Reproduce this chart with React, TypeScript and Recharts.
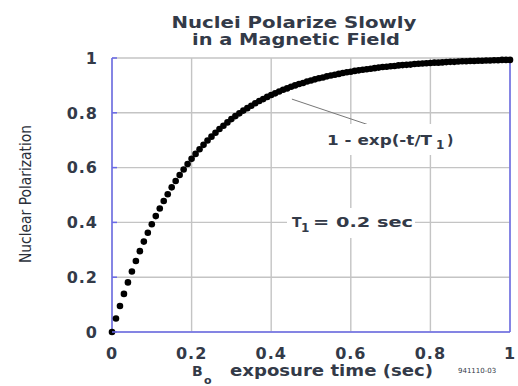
import React from 'react';
import { ScatterChart, Scatter, XAxis, YAxis, CartesianGrid, ReferenceLine } from 'recharts';

const times = [
  0, 0.01, 0.02, 0.03, 0.04, 0.05, 0.06, 0.07, 0.08, 0.09,
  0.1, 0.11, 0.12, 0.13, 0.14, 0.15, 0.16, 0.17, 0.18, 0.19,
  0.2, 0.21, 0.22, 0.23, 0.24, 0.25, 0.26, 0.27, 0.28, 0.29,
  0.3, 0.31, 0.32, 0.33, 0.34, 0.35, 0.36, 0.37, 0.38, 0.39,
  0.4, 0.41, 0.42, 0.43, 0.44, 0.45, 0.46, 0.47, 0.48, 0.49,
  0.5, 0.51, 0.52, 0.53, 0.54, 0.55, 0.56, 0.57, 0.58, 0.59,
  0.6, 0.61, 0.62, 0.63, 0.64, 0.65, 0.66, 0.67, 0.68, 0.69,
  0.7, 0.71, 0.72, 0.73, 0.74, 0.75, 0.76, 0.77, 0.78, 0.79,
  0.8, 0.81, 0.82, 0.83, 0.84, 0.85, 0.86, 0.87, 0.88, 0.89,
  0.9, 0.91, 0.92, 0.93, 0.94, 0.95, 0.96, 0.97, 0.98, 0.99,
  1,
];

const polarization = [
  0, 0.049, 0.095, 0.139, 0.181, 0.221, 0.259, 0.295, 0.33, 0.362,
  0.393, 0.423, 0.451, 0.478, 0.503, 0.528, 0.551, 0.573, 0.593, 0.613,
  0.632, 0.65, 0.667, 0.683, 0.699, 0.713, 0.727, 0.741, 0.753, 0.765,
  0.777, 0.788, 0.798, 0.808, 0.817, 0.826, 0.835, 0.843, 0.85, 0.858,
  0.865, 0.871, 0.878, 0.884, 0.889, 0.895, 0.9, 0.905, 0.909, 0.914,
  0.918, 0.922, 0.926, 0.929, 0.933, 0.936, 0.939, 0.942, 0.945, 0.948,
  0.95, 0.953, 0.955, 0.957, 0.959, 0.961, 0.963, 0.965, 0.967, 0.968,
  0.97, 0.971, 0.973, 0.974, 0.975, 0.976, 0.978, 0.979, 0.98, 0.981,
  0.982, 0.983, 0.983, 0.984, 0.985, 0.986, 0.986, 0.987, 0.988, 0.988,
  0.989, 0.989, 0.99, 0.99, 0.991, 0.991, 0.992, 0.992, 0.993, 0.993,
  0.993,
];

const xTicks = [0, 0.2, 0.4, 0.6, 0.8, 1];
const yTicks = [0, 0.2, 0.4, 0.6, 0.8, 1];

const titleLines = ['Nuclei Polarize Slowly', 'in a Magnetic Field'];
const yLabel = 'Nuclear Polarization';
const curveLabel = '1 - exp(-t/T';
const t1Label = '= 0.2 sec';
const figId = '941110-03';

const leader = [
  { x: 0.452, y: 0.85 },
  { x: 0.661, y: 0.748 },
];

const data = times.map((t, i) => ({ t, p: polarization[i] }));

const FRAME = '#6a6ae8';
const GRID = '#c4c4c4';
const TEXT = '#333a48';
const FONT = '"DejaVu Sans", "Liberation Sans", sans-serif';

const Dot = (props: any) => <circle cx={props.cx} cy={props.cy} r={3.3} fill="#000" />;

const LeftTick = (props: any) => {
  const { x, y, payload } = props;
  return (
    <g>
      <line x1={x + 14} x2={x + 19} y1={y} y2={y} stroke={FRAME} strokeWidth={1.5} />
      <text
        x={x}
        y={y}
        dy="0.36em"
        textAnchor="end"
        fill={TEXT}
        fontSize={16}
        fontWeight="bold"
        fontFamily={FONT}
        letterSpacing={1}
      >
        {String(payload.value)}
      </text>
    </g>
  );
};

const RightTick = (props: any) => {
  const { x, y } = props;
  return <line x1={x - 5} x2={x} y1={y} y2={y} stroke={FRAME} strokeWidth={1.5} />;
};

export default function App() {
  return (
    <div style={{ position: 'absolute', left: 0, top: 0, width: 518, height: 386, background: '#fff' }}>
      <ScatterChart width={518} height={386} margin={{ top: 58, right: 0, bottom: 0, left: 0 }}>
        <CartesianGrid
          xAxisId="b"
          yAxisId="l"
          stroke={GRID}
          strokeWidth={1.4}
          horizontalValues={yTicks}
          verticalValues={xTicks}
        />
        <XAxis
          xAxisId="b"
          type="number"
          dataKey="t"
          domain={[0, 1]}
          ticks={xTicks}
          tickFormatter={(v: number) => String(v)}
          height={54}
          axisLine={{ stroke: FRAME, strokeWidth: 1.5 }}
          tickLine={false}
          tickMargin={10}
          tick={{ fill: TEXT, fontSize: 16, fontWeight: 'bold', fontFamily: FONT, letterSpacing: 1 }}
          interval={0}
        />
        <XAxis
          xAxisId="t"
          orientation="top"
          type="number"
          dataKey="t"
          domain={[0, 1]}
          ticks={xTicks}
          height={0}
          axisLine={{ stroke: FRAME, strokeWidth: 1.5 }}
          tickLine={false}
          tick={false}
        />
        <YAxis
          yAxisId="l"
          type="number"
          dataKey="p"
          domain={[0, 1]}
          ticks={yTicks}
          width={112}
          axisLine={{ stroke: FRAME, strokeWidth: 1.5 }}
          tickLine={false}
          tickSize={0}
          tickMargin={14}
          tick={<LeftTick />}
          interval={0}
        />
        <YAxis
          yAxisId="r"
          orientation="right"
          type="number"
          dataKey="p"
          domain={[0, 1]}
          ticks={yTicks}
          width={8}
          axisLine={{ stroke: FRAME, strokeWidth: 1.5 }}
          tickLine={false}
          tickSize={0}
          tickMargin={0}
          tick={<RightTick />}
          interval={0}
        />
        <ReferenceLine
          xAxisId="b"
          yAxisId="l"
          segment={leader}
          stroke="#777"
          strokeWidth={1}
        />
        <Scatter
          xAxisId="b"
          yAxisId="l"
          data={data}
          shape={Dot}
          isAnimationActive={false}
        />
      </ScatterChart>
      <svg width={518} height={386} style={{ position: 'absolute', left: 0, top: 0, pointerEvents: 'none' }}>
        <g fontFamily={FONT} fontWeight="bold" fill={TEXT}>
          <text x={294} y={28} fontSize={15} textAnchor="middle" textLength={245} lengthAdjust="spacingAndGlyphs">{titleLines[0]}</text>
          <text x={296} y={45} fontSize={15} textAnchor="middle" textLength={208} lengthAdjust="spacingAndGlyphs">{titleLines[1]}</text>

          <text x={192} y={376} fontSize={14}>B</text>
          <text x={204} y={384} fontSize={11}>o</text>
          <text x={230} y={376} fontSize={15} textLength={203} lengthAdjust="spacingAndGlyphs">exposure time (sec)</text>

          <rect x={321} y={124} width={138} height={31} fill="#fff" />
          <text x={327} y={145} fontSize={14} textLength={105} lengthAdjust="spacingAndGlyphs">{curveLabel}</text>
          <text x={436} y={149} fontSize={12}>1</text>
          <text x={447} y={145} fontSize={14}>)</text>

          <rect x={287} y={208} width={128} height={30} fill="#fff" />
          <text x={292} y={227} fontSize={14}>T</text>
          <text x={301} y={232} fontSize={12}>1</text>
          <text x={313} y={227} fontSize={14} textLength={100} lengthAdjust="spacingAndGlyphs">{t1Label}</text>
        </g>
        <text
          x={25}
          y={194}
          transform="rotate(-90 25 194)"
          textAnchor="middle"
          dominantBaseline="central"
          fontFamily='"Liberation Sans Narrow", "DejaVu Sans Condensed", sans-serif'
          fontSize={16}
          fill="#2a2f3a"
          textLength={138}
          lengthAdjust="spacingAndGlyphs"
        >
          {yLabel}
        </text>
        <text x={458} y={373} fontFamily={FONT} fontSize={7} fill={TEXT}>{figId}</text>
      </svg>
    </div>
  );
}
